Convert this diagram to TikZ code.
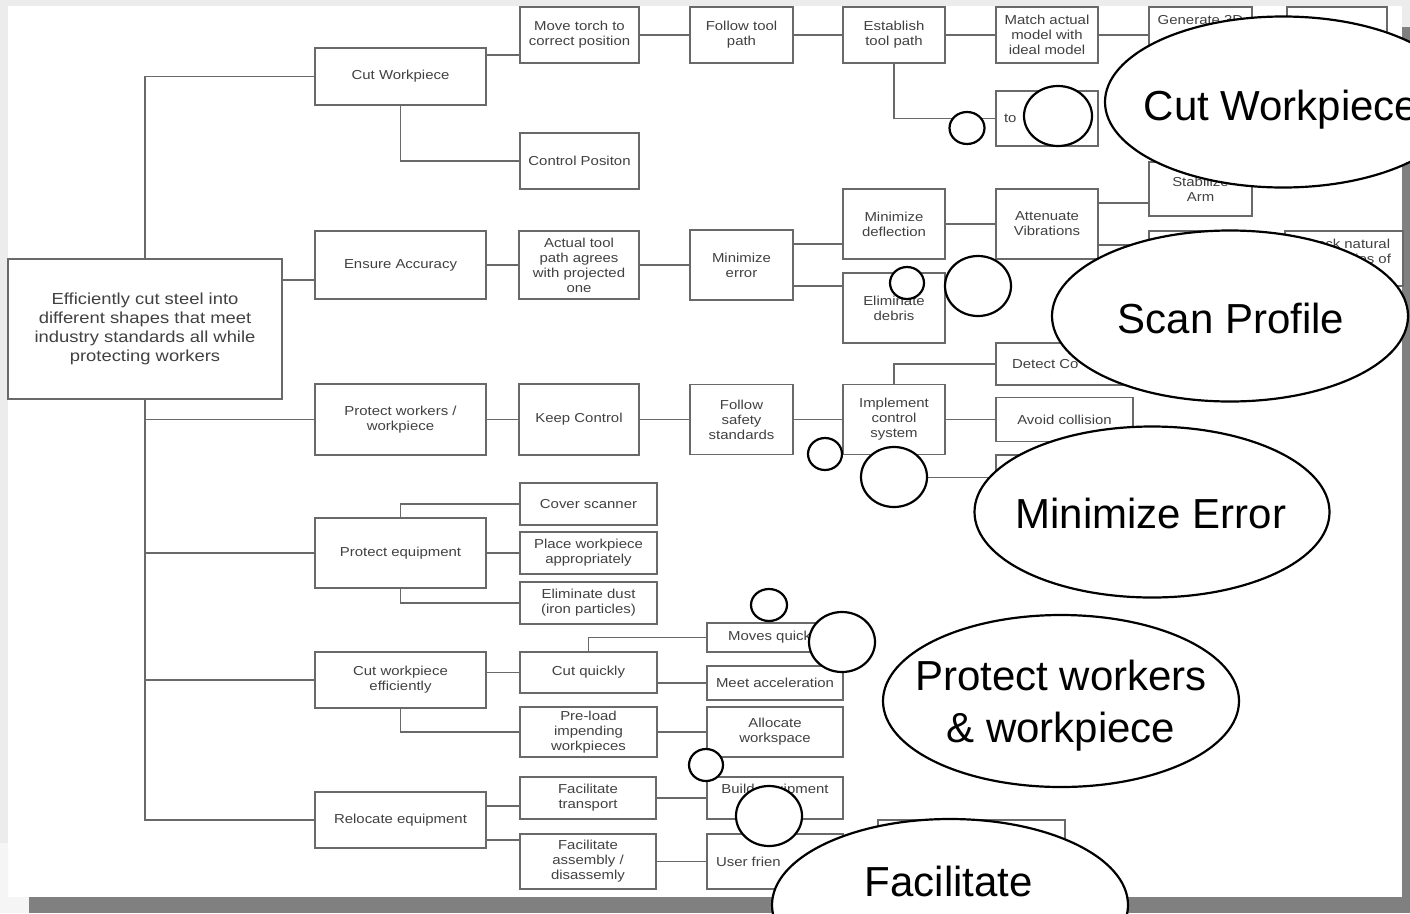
\documentclass[tikz,border=0pt]{standalone}
\usepackage{fontspec}
\usepackage{xcolor}
\usepackage{tikz}
\usetikzlibrary{positioning, shapes.geometric}
\newfontfamily\boxfont[FakeStretch=1.15]{Liberation Sans}
\newfontfamily\bubfont{Liberation Sans}
\definecolor{boxline}{RGB}{105,105,105}
\definecolor{boxtext}{RGB}{65,65,65}
\definecolor{pagebg}{RGB}{236,236,236}
\definecolor{pageshadow}{RGB}{128,128,128}

\begin{document}
\begin{tikzpicture}[x=1pt, y=-1pt,
      blk/.style={draw=boxline, line width=1.5pt, fill=white, text=boxtext, align=center, inner sep=1pt, outer sep=0pt, font=\boxfont\fontsize{13}{15}\selectfont},
      bx/.style 2 args={blk, minimum width=#1, minimum height=#2, anchor=north west},
      ln/.style={draw=boxline, line width=1.5pt},
      bub/.style 2 args={ellipse, draw=black, line width=2.2pt, fill=white, minimum width=#1, minimum height=#2, inner sep=0pt},
      bubtxt/.style={font=\bubfont\fontsize{42}{52}\selectfont, anchor=base, inner sep=0pt}]
    \useasboundingbox (0,0) rectangle (1410,913);
    \clip (0,0) rectangle (1410,913);
    \fill[pagebg] (0,0) rectangle (1410,913);
    \fill[white] (8,6) rectangle (1402,897);
    \fill[white!96!black] (0,843) rectangle (8,897) (0,897) rectangle (29,913);
    \fill[pageshadow] (1402,27) rectangle (1410,913);
    \fill[pageshadow] (29,897) rectangle (1410,913);

    \node[bx={274pt}{140pt}, font=\boxfont\fontsize{16}{19}\selectfont] (root) at (8,259) {Efficiently cut steel into\\different shapes that meet\\industry standards all while\\protecting workers};

    \node[bx={171pt}{57pt}] (cutwp) at (315,48) {Cut Workpiece};
    \node[bx={171pt}{68pt}] (acc) at (315,231) {Ensure Accuracy};
    \node[bx={171pt}{71pt}] (pwork) at (315,384) {Protect workers /\\workpiece};
    \node[bx={171pt}{70pt}] (pequip) at (315,518) {Protect equipment};
    \node[bx={171pt}{56pt}] (cutwpe) at (315,652) {Cut workpiece\\efficiently};
    \node[bx={171pt}{56pt}] (reloc) at (315,792) {Relocate equipment};

    \node[bx={119pt}{56pt}] (torch) at (520,7) {Move torch to\\correct position};
    \node[bx={103pt}{56pt}, right=51pt of torch] (follow) {Follow tool\\path};
    \node[bx={102pt}{56pt}, right=50pt of follow] (estab) {Establish\\tool path};
    \node[bx={102pt}{56pt}, right=51pt of estab] (match) {Match actual\\model with\\ideal model};
    \node[bx={103pt}{56pt}, right=51pt of match] (gen3d) {Generate 3D\\\phantom{model}\\\phantom{model}};
    \node[bx={100pt}{56pt}, right=35pt of gen3d] (c7a) {};
    \node[bx={119pt}{56pt}] (ctrlpos) at (520,133) {Control Positon};
    \node[bx={102pt}{55pt}] (tol) at (996,91) {\makebox[86pt][l]{to}};

    \node[bx={120pt}{68pt}, right=33pt of acc] (agree) {Actual tool\\path agrees\\with projected\\one};
    \node[bx={103pt}{70pt}, right=51pt of agree] (minerr) {Minimize\\error};
    \node[bx={102pt}{70pt}] (mindef) at (843,189) {Minimize\\deflection};
    \node[bx={102pt}{70pt}] (debris) at (843,273) {Eliminate\\debris};
    \node[bx={102pt}{70pt}, right=51pt of mindef] (atten) {Attenuate\\Vibrations};
    \node[bx={103pt}{54pt}] (stab) at (1149,162) {Stabilize\\Arm};
    \node[bx={103pt}{56pt}] (c6b) at (1149,231) {};
    \node[bx={118pt}{55pt}] (natfreq) at (1285,231) {Check natural\\frequencies of\\\phantom{x}};

    \node[bx={120pt}{71pt}, right=33pt of pwork] (keep) {Keep Control};
    \node[bx={103pt}{70pt}, right=51pt of keep] (safety) {Follow\\safety\\standards};
    \node[bx={102pt}{70pt}, right=50pt of safety] (implement) {Implement\\control\\system};
    \node[bx={137pt}{44pt}, right=51pt of implement] (avoid) {Avoid collision};
    \node[bx={139pt}{42pt}] (detect) at (996,343) {\makebox[107pt][l]{Detect Co}};
    \node[bx={139pt}{45pt}] (c5low) at (996,455) {};

    \node[bx={137pt}{42pt}] (cover) at (520,483) {Cover scanner};
    \node[bx={137pt}{42pt}] (place) at (520,532) {Place workpiece\\appropriately};
    \node[bx={137pt}{42pt}] (dust) at (520,582) {Eliminate dust\\(iron particles)};

    \node[bx={137pt}{41pt}] (quick) at (520,652) {Cut quickly};
    \node[bx={137pt}{50pt}] (preload) at (520,707) {Pre-load\\impending\\workpieces};
    \node[bx={136pt}{29pt}] (moves) at (707,623) {Moves quickly};
    \node[bx={136pt}{34pt}] (accel) at (707,666) {Meet acceleration};
    \node[bx={136pt}{50pt}] (alloc) at (707,707) {Allocate\\workspace};

    \node[bx={136pt}{42pt}] (transp) at (520,777) {Facilitate\\transport};
    \node[bx={136pt}{55pt}] (assem) at (520,834) {Facilitate\\assembly /\\disassemly};
    \node[bx={136pt}{42pt}] (build) at (707,777) {Build equipment\\\phantom{Ay}};
    \node[bx={136pt}{55pt}] (friendly) at (707,834) {\makebox[118pt][l]{User frien}};
    \node[bx={187pt}{60pt}] (lowbox) at (878,820) {};

    \draw[ln] (cutwp.west) -| (root.north);
    \draw[ln] (root.south) |- (reloc.west);
    \coordinate (accin) at ([yshift=-15pt]acc.west);
    \draw[ln] (accin) -- (accin -| root.east);
    \draw[ln] (pwork.west) -- (pwork.west -| root.south);
    \draw[ln] (pequip.west) -- (pequip.west -| root.south);
    \draw[ln] (cutwpe.west) -- (cutwpe.west -| root.south);

    \coordinate (torchin) at ([yshift=-20pt]torch.west);
    \draw[ln] (torchin) -- (torchin -| cutwp.east);
    \draw[ln] (cutwp.south) |- (ctrlpos.west);
    \draw[ln] (torch) -- (follow) -- (estab) -- (match) -- (gen3d);
    \draw[ln] (estab.south) |- (tol.west);

    \draw[ln] (acc) -- (agree) -- (minerr);
    \draw[ln] ([yshift=21pt]minerr.east) -- ([yshift=21pt]minerr.east -| mindef.west);
    \draw[ln] ([yshift=-21pt]minerr.east) -- ([yshift=-21pt]minerr.east -| debris.west);
    \draw[ln] (mindef) -- (atten);
    \draw[ln] ([yshift=21pt]atten.east) -- ([yshift=21pt]atten.east -| stab.west);
    \draw[ln] ([yshift=-21pt]atten.east) -- ([yshift=-21pt]atten.east -| c6b.west);

    \draw[ln] (pwork) -- (keep) -- (safety) -- (implement) -- (avoid);
    \draw[ln] (implement.north) |- (detect.west);
    \draw[ln] (implement.south) |- (c5low.west);

    \draw[ln] (pequip.north) |- (cover.west);
    \draw[ln] (pequip) -- (place);
    \draw[ln] (pequip.south) |- (dust.west);

    \draw[ln] (quick.west) -- (quick.west -| cutwpe.east);
    \draw[ln] (cutwpe.south) |- (preload.west);
    \draw[ln] (quick.north) |- (moves.west);
    \draw[ln] (accel.west) -- (accel.west -| quick.east);
    \draw[ln] (preload) -- (alloc);

    \draw[ln] ([yshift=14pt]reloc.east) -- ([yshift=14pt]reloc.east -| transp.west);
    \draw[ln] ([yshift=-20pt]reloc.east) -- ([yshift=-20pt]reloc.east -| assem.west);
    \draw[ln] (transp) -- (build);
    \draw[ln] (assem) -- (friendly);

    \node[bub={35pt}{32pt}] (cw1) at (967,128) {};
    \node[bub={68pt}{60pt}] (cw2) at (1058,116) {};
    \node[bub={356pt}{171pt}] (cw3) at (1283,102) {};
    \node[bubtxt] (cw3t) at (1281,120) {Cut Workpiece};

    \node[bub={34pt}{32pt}] (sp1) at (907,283) {};
    \node[bub={66pt}{60pt}] (sp2) at (978,286) {};
    \node[bub={356pt}{171pt}] (sp3) at (1230,316) {};
    \node[bubtxt] (sp3t) at (1231,333) {Scan Profile};

    \node[bub={34pt}{32pt}] (me1) at (825,454) {};
    \node[bub={66pt}{60pt}] (me2) at (894,477) {};
    \node[bub={355pt}{171pt}] (me3) at (1152,512) {};
    \node[bubtxt] (me3t) at (1151,528) {Minimize Error};

    \node[bub={36pt}{32pt}] (pw1) at (769,605) {};
    \node[bub={66pt}{60pt}] (pw2) at (842,642) {};
    \node[bub={356pt}{172pt}] (pw3) at (1061,701) {};
    \node[bubtxt] (pw3a) at (1061,690) {Protect workers};
    \node[bubtxt] (pw3b) at (1061,742) {\& workpiece};

    \node[bub={34pt}{32pt}] (fa1) at (706,765) {};
    \node[bub={66pt}{60pt}] (fa2) at (769,816) {};
    \node[bub={356pt}{172pt}] (fa3) at (950,905) {};
    \node[bubtxt] (fa3t) at (949,896) {Facilitate};
  \end{tikzpicture}
\end{document}
